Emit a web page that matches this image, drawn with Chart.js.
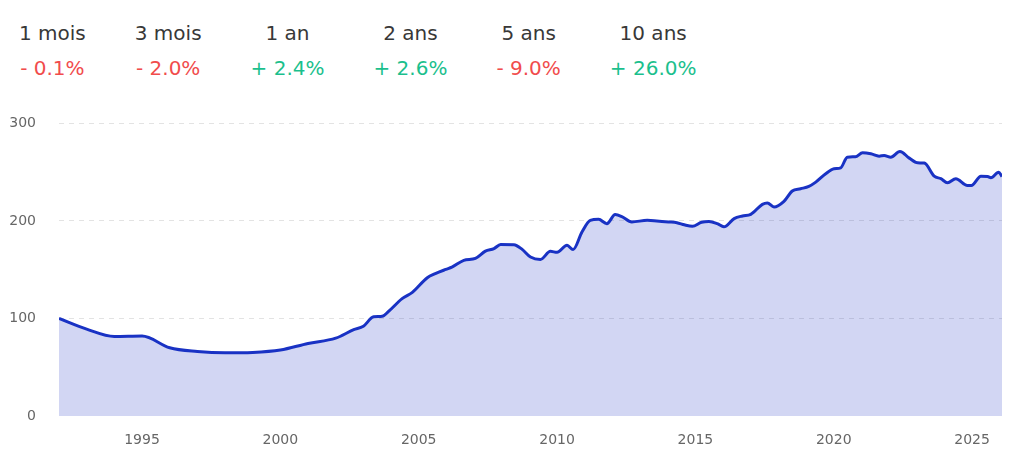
<!DOCTYPE html>
<html>
<head>
<meta charset="utf-8">
<script src="https://cdn.jsdelivr.net/npm/chart.js@4"></script>
<style>
  html, body { margin: 0; padding: 0; background: #fff; }
  body { width: 1012px; height: 459px; position: relative; overflow: hidden; font-family: "DejaVu Sans", sans-serif; }
  .stats { position: absolute; top: 20px; left: 19px; display: flex; gap: 49px; }
  .stat { text-align: center; }
  .stat .label { font-size: 20px; line-height: 26px; color: #383838; }
  .stat .value { font-size: 20px; line-height: 26px; margin-top: 9px; }
  .up { color: #1bbf8d; }
  .down { color: #f14c4c; }
  .chart-box { position: absolute; left: 0; top: 92px; width: 1012px; height: 367px; }
</style>
</head>
<body>
<div class="stats" id="stats"></div>
<div class="chart-box"><canvas id="chart"></canvas></div>
<script>
// header figures
const periods = ['1 mois', '3 mois', '1 an', '2 ans', '5 ans', '10 ans'];
const changes = [-0.1, -2.0, 2.4, 2.6, -9.0, 26.0];

// series (decimal years / index value)
const years = [
  1992, 1993, 1994, 1995, 1996, 1997, 1998, 1999, 2000, 2001, 2002,
  2002.65, 2003, 2003.37, 2003.68, 2003.92, 2004.4, 2004.77, 2005.31, 2005.6, 2005.98,
  2006.2, 2006.63, 2007.05, 2007.41, 2007.72, 2007.96, 2008.44, 2008.74, 2009.04, 2009.4,
  2009.76, 2010, 2010.36, 2010.58, 2010.9, 2011.2, 2011.5, 2011.8, 2012.1, 2012.34,
  2012.7, 2013.26, 2013.6, 2014.03, 2014.33, 2014.6, 2014.89, 2015.22, 2015.49, 2015.79,
  2016.03, 2016.4, 2016.7, 2017, 2017.42, 2017.6, 2017.84, 2018.2, 2018.5, 2018.8,
  2019.1, 2019.35, 2019.71, 2020.01, 2020.25, 2020.49, 2020.78, 2021.04, 2021.34, 2021.64,
  2021.82, 2022.06, 2022.39, 2022.73, 2023.03, 2023.27, 2023.63, 2023.87, 2024.11, 2024.41,
  2024.83, 2024.97, 2025.32, 2025.56, 2025.68, 2025.96, 2026.08
];
const values = [
  100, 89, 81.5, 82, 70, 66.2, 64.8, 65.2, 67.6, 74.4, 79.8,
  88.5, 92, 101.7, 102.2, 107.5, 120.3, 126.8, 141.8, 146, 150.3,
  152.6, 159.6, 161.6, 169, 171.6, 175.8, 175.6, 170.8, 163, 160.5,
  168.8, 167.8, 175, 170.6, 188.6, 200.6, 201.6, 197.2, 206.5, 204.5,
  199, 200.6, 200, 199, 198.2, 196, 194.5, 198.6, 199.4, 197.2,
  194, 202.4, 205.1, 206.8, 217, 218.4, 214.3, 220.1, 230.7, 233,
  235.4, 239.8, 248.4, 253.5, 254.5, 265.4, 265.8, 269.8, 268.8, 266.4,
  267.1, 265.4, 271.2, 264.4, 259.6, 259.3, 245.9, 243.3, 239.2, 243.3,
  236.4, 236.4, 245.9, 245.6, 244.3, 250, 245.6
];

const xTicks = [1995, 2000, 2005, 2010, 2015, 2020, 2025];
const yTicks = [0, 100, 200, 300];

// header
const stats = document.getElementById('stats');
periods.forEach((p, i) => {
  const v = changes[i];
  const item = document.createElement('div');
  item.className = 'stat';
  const sign = v < 0 ? '- ' : '+ ';
  item.innerHTML = '<div class="label">' + p + '</div>' +
    '<div class="value ' + (v < 0 ? 'down' : 'up') + '">' + sign + Math.abs(v).toFixed(1) + '%</div>';
  stats.appendChild(item);
});

const tickFont = { family: 'DejaVu Sans', size: 14 };

new Chart(document.getElementById('chart').getContext('2d'), {
  type: 'line',
  data: {
    datasets: [{
      data: years.map((y, i) => ({ x: y, y: values[i] })),
      borderColor: '#1932c4',
      borderWidth: 3,
      backgroundColor: 'rgba(28, 48, 196, 0.2)',
      fill: 'origin',
      pointRadius: 0,
      cubicInterpolationMode: 'monotone'
    }]
  },
  options: {
    animation: false,
    responsive: true,
    maintainAspectRatio: false,
    layout: { padding: { top: 15, right: 10, bottom: 13, left: 7 } },
    plugins: { legend: { display: false }, tooltip: { enabled: false } },
    scales: {
      x: {
        type: 'linear',
        min: years[0],
        max: years[years.length - 1],
        afterBuildTicks: axis => { axis.ticks = xTicks.map(v => ({ value: v })); },
        afterFit: axis => { axis.height = 30; },
        grid: { display: false },
        border: { display: false },
        ticks: { color: '#666', font: tickFont, padding: 8, maxRotation: 0, callback: v => String(v) }
      },
      y: {
        min: 0,
        max: 300,
        afterBuildTicks: axis => { axis.ticks = yTicks.map(v => ({ value: v })); },
        afterFit: axis => { axis.width = 52; },
        grid: { color: ctx => ctx.tick && ctx.tick.value === 0 ? 'rgba(0,0,0,0)' : '#e3e3e3', drawTicks: false },
        border: { display: false, dash: [5, 5] },
        ticks: { color: '#666', font: tickFont, padding: 23 }
      }
    }
  }
});
</script>
</body>
</html>
